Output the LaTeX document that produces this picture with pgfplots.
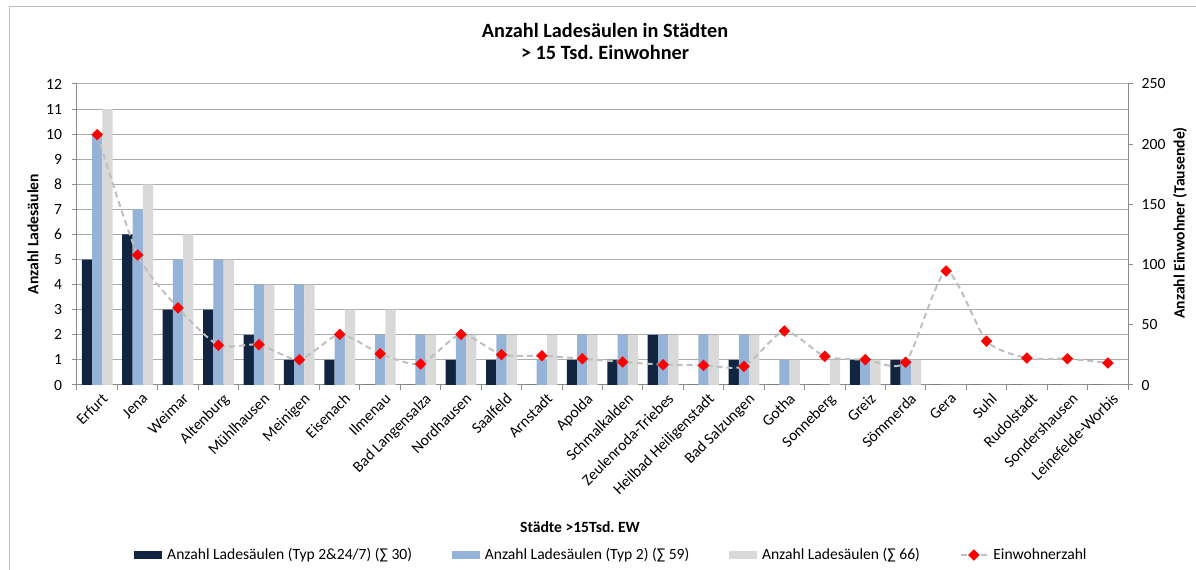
\documentclass[border=0pt]{standalone}
\usepackage{fontspec}
\setmainfont{Carlito}
\usepackage{pgfplots}
\pgfplotsset{compat=1.18}
\usepackage{pgfplotstable}
\frenchspacing
\definecolor{cDark}{HTML}{112540}
\definecolor{cBlue}{HTML}{95B3D7}
\definecolor{cGrey}{HTML}{D9D9D9}
\definecolor{cLine}{HTML}{BFBFBF}
\definecolor{cGrid}{HTML}{ABABAB}
\definecolor{cAxis}{HTML}{8C8C8C}
\definecolor{cFrame}{HTML}{BFBFBF}
\newcommand{\fs}{\fontsize{11.7}{14}\selectfont}

\pgfplotsset{
  mybarleg/.style={legend image code/.code={\fill[##1] (0pt,-3pt) rectangle (21pt,3pt);}},
  mylineleg/.style={legend image code/.code={\draw[##1,sharp plot,mark repeat=2,mark phase=2] plot coordinates {(0pt,0pt) (10pt,0pt) (20pt,0pt)};}},
}

\pgfplotstableread{
x typA typB total ew
0  5 10 11 208
1  6  7  8 108
2  3  5  6 64
3  3  5  5 33
4  2  4  4 33.5
5  1  4  4 21
6  1  2  3 42
7  0  2  3 26
8  0  2  2 17.4
9  1  2  2 42
10 1  2  2 25.2
11 0  1  2 24.3
12 1  2  2 21.8
13 1  2  2 19.1
14 2  2  2 16.9
15 0  2  2 16.3
16 1  2  2 15.5
17 0  1  1 44.8
18 0  0  1 23.8
19 1  1  1 21
20 1  1  1 18.9
21 0  0  0 94.7
22 0  0  0 36.5
23 0  0  0 22.4
24 0  0  0 21.8
25 0  0  0 18.3
}\data

\begin{document}
\begin{tikzpicture}
\useasboundingbox (0,0) rectangle (897pt,427.5pt);
\draw[cFrame, line width=0.75pt] (6.75pt,-5pt) -- (6.75pt,422.25pt) -- (905pt,422.25pt);

\begin{axis}[
  at={(57.75pt,138.75pt)}, anchor=south west, scale only axis,
  width=788.25pt, height=225.75pt,
  xmin=-0.5, xmax=25.5, ymin=0, ymax=12,
  ybar=0pt, bar width=7.7pt,
  axis x line*=bottom, axis y line*=left,
  axis line style={cAxis, line width=0.75pt},
  xtick={0,...,25},
  xticklabels={Erfurt,Jena,Weimar,Altenburg,Mühlhausen,Meinigen,Eisenach,Ilmenau,Bad Langensalza,Nordhausen,Saalfeld,Arnstadt,Apolda,Schmalkalden,Zeulenroda-Triebes,Heilbad Heiligenstadt,Bad Salzungen,Gotha,Sonneberg,Greiz,Sömmerda,Gera,Suhl,Rudolstadt,Sondershausen,Leinefelde-Worbis},
  major x tick style={draw=none},
  minor xtick={-0.5,0.5,...,25.5},
  minor tick length=3.75pt,
  ytick={0,...,12}, major tick length=3.75pt,
  tick align=outside,
  tick style={cAxis, line width=0.75pt},
  ymajorgrids, grid style={cGrid, line width=0.75pt},
  xticklabel style={rotate=45, anchor=north east, font=\fs, inner sep=1pt, yshift=-2pt, xshift=2pt},
  yticklabel style={font=\fs, xshift=-4pt},
  /pgf/number format/assume math mode=true,
  legend columns=4,
  legend cell align=left,
  legend style={draw=none, fill=none, at={(0.0542,-0.5648)}, anchor=west,
    inner sep=0pt, column sep=0pt,
    font=\fs,
    nodes={inner xsep=3.75pt, inner ysep=0pt},
    /tikz/every even column/.append style={column sep=26pt}},
]
\addplot[fill=cDark, draw=none, mybarleg] table[x=x,y=typA]{\data};
\addlegendentry{Anzahl Ladesäulen (Typ 2\&24/7) (∑ 30)}
\addplot[fill=cBlue, draw=none, mybarleg] table[x=x,y=typB]{\data};
\addlegendentry{Anzahl Ladesäulen (Typ 2) (∑ 59)}
\addplot[fill=cGrey, draw=none, mybarleg] table[x=x,y=total]{\data};
\addlegendentry{Anzahl Ladesäulen (∑ 66)}
\addlegendimage{cLine, line width=1.5pt, dash pattern=on 4.5pt off 3pt, mark=square*, mark size=2.3pt, mark options={solid, rotate=45, fill=red, draw=red}, mylineleg}
\addlegendentry{Einwohnerzahl}
\end{axis}

\begin{axis}[
  at={(57.75pt,138.75pt)}, anchor=south west, scale only axis,
  width=788.25pt, height=225.75pt,
  xmin=-0.5, xmax=25.5, ymin=0, ymax=250,
  axis x line=none, axis y line*=right,
  axis line style={cAxis, line width=0.75pt},
  ytick={0,50,...,250}, major tick length=3.75pt,
  tick align=outside,
  tick style={cAxis, line width=0.75pt},
  yticklabel style={font=\fs, xshift=3pt},
  /pgf/number format/assume math mode=true,
]
\addplot[cLine, line width=1.5pt, dash pattern=on 4.5pt off 3pt, smooth, tension=0.4,
  mark=square*, mark size=2.3pt, mark options={solid, rotate=45, fill=red, draw=red}]
  table[x=x,y=ew]{\data};
\end{axis}

\node[font=\bfseries\fontsize{15.2}{16.5}\selectfont, align=center] at (453.75pt,396.75pt) {Anzahl Ladesäulen in Städten\\> 15 Tsd. Einwohner};
\node[font=\bfseries\fs] at (435pt,32.25pt) {Städte >15Tsd. EW};
\node[font=\bfseries\fs, rotate=90] at (24.75pt,252pt) {Anzahl Ladesäulen};
\node[font=\bfseries\fs, rotate=90] at (885pt,260.25pt) {Anzahl Einwohner (Tausende)};
\end{tikzpicture}
\end{document}
